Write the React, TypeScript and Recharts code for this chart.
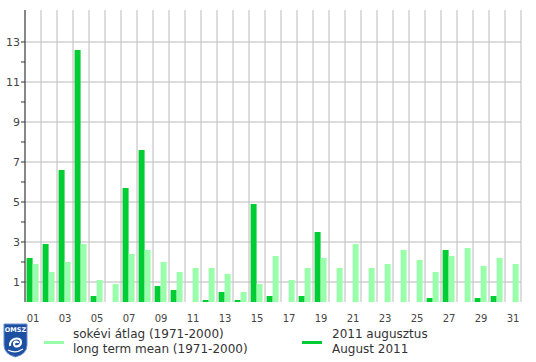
import React from 'react';
import { BarChart, Bar, XAxis, YAxis, CartesianGrid } from 'recharts';

// daily precipitation, August 2011 vs long term mean (1971-2000)
const days = [
  '01', '02', '03', '04', '05', '06', '07', '08', '09', '10',
  '11', '12', '13', '14', '15', '16', '17', '18', '19', '20',
  '21', '22', '23', '24', '25', '26', '27', '28', '29', '30', '31',
];
const aug2011 = [
  2.2, 2.9, 6.6, 12.6, 0.3, 0, 5.7, 7.6, 0.8, 0.6,
  0, 0.1, 0.5, 0.1, 4.9, 0.3, 0, 0.3, 3.5, 0,
  0, 0, 0, 0, 0, 0.2, 2.6, 0, 0.2, 0.3, 0,
];
const longTermMean = [
  1.9, 1.5, 2.0, 2.9, 1.1, 0.9, 2.4, 2.6, 2.0, 1.5,
  1.7, 1.7, 1.4, 0.5, 0.9, 2.3, 1.1, 1.7, 2.2, 1.7,
  2.9, 1.7, 1.9, 2.6, 2.1, 1.5, 2.3, 2.7, 1.8, 2.2, 1.9,
];
const yTicks = [1, 2, 3, 4, 5, 6, 7, 8, 9, 10, 11, 12, 13];
const yGridValues = [1, 3, 5, 7, 9, 11, 13];
const dayBoundaries = [
  0, 1, 2, 3, 4, 5, 6, 7, 8, 9, 10, 11, 12, 13, 14, 15,
  16, 17, 18, 19, 20, 21, 22, 23, 24, 25, 26, 27, 28, 29, 30, 31,
];

const DARK = '#00cc33';
const LIGHT = '#99ffaa';
const AXIS = '#333333';

// pos = middle of the day on the 0..31 boundary axis
const data = days.map((day, i) => ({ day, pos: i + 0.5, aug: aug2011[i], mean: longTermMean[i] }));

// only odd values get a label, even ones keep just the small tick
const YTick = (props: any) => {
  const { x, y, payload } = props;
  if (payload.value % 2 === 0) return <g />;
  return (
    <text x={x} y={y} dy={4} textAnchor="end" fill="#444" fontSize={11}>
      {payload.value}
    </text>
  );
};

const NoLabel = () => <g />;

const Logo = () => (
  <svg width={25} height={35} style={{ position: 'absolute', left: 3, top: 323 }}>
    <path d="M1 1 H24 V22 Q24 31 12.5 34 Q1 31 1 22 Z" fill="#1d4fa3" stroke="#6f8fcf" strokeWidth={1} />
    <text x={12.5} y={9} textAnchor="middle" fill="#fff" fontSize={6.5} fontWeight="bold">OMSZ</text>
    <path d="M7 23 C6 15 18 13 18 19 C18 24 11 25 11 21 C11 18 15 18 15 20" stroke="#fff" strokeWidth={2.2} fill="none" />
    <path d="M5 27 Q12.5 31 20 26" stroke="#fff" strokeWidth={1.2} fill="none" />
  </svg>
);

export default function App() {
  return (
    <div style={{ position: 'relative', width: 536, height: 362, fontFamily: '"DejaVu Sans", Verdana, sans-serif', background: '#fff' }}>
      <style>{'body{margin:0}'}</style>
      <BarChart
        width={536}
        height={362}
        data={data}
        margin={{ top: 10, right: 15, bottom: 40, left: 0 }}
        barCategoryGap="10%"
        barGap={0}
      >
        <CartesianGrid
          xAxisId="grid"
          horizontalValues={yGridValues}
          verticalValues={dayBoundaries}
          stroke="#bbbbbb"
        />
        <XAxis
          xAxisId="grid"
          dataKey="pos"
          type="number"
          domain={[0, 31]}
          ticks={dayBoundaries}
          interval={0}
          tick={<NoLabel />}
          tickSize={4}
          height={0}
          axisLine={{ stroke: AXIS }}
          tickLine={{ stroke: AXIS }}
        />
        <XAxis
          xAxisId="cat"
          dataKey="day"
          interval={1}
          tickLine={false}
          axisLine={false}
          tickSize={6}
          tickMargin={7}
          height={20}
          tick={{ fill: '#444', fontSize: 10 }}
        />
        <YAxis
          width={25}
          domain={[0, 14.6]}
          ticks={yTicks}
          interval={0}
          tick={<YTick />}
          tickSize={4}
          tickMargin={1}
          axisLine={{ stroke: AXIS }}
          tickLine={{ stroke: AXIS }}
        />
        <Bar xAxisId="cat" dataKey="aug" fill={DARK} isAnimationActive={false} />
        <Bar xAxisId="cat" dataKey="mean" fill={LIGHT} isAnimationActive={false} />
      </BarChart>

      <Logo />
      <div style={{ position: 'absolute', left: 44, top: 341, width: 20, height: 3, background: LIGHT }} />
      <div style={{ position: 'absolute', left: 73, top: 327, fontSize: 12, lineHeight: '15px', color: '#333' }}>
        sokévi átlag (1971-2000)<br />long term mean (1971-2000)
      </div>
      <div style={{ position: 'absolute', left: 302, top: 341, width: 20, height: 3, background: DARK }} />
      <div style={{ position: 'absolute', left: 332, top: 327, fontSize: 12, lineHeight: '15px', color: '#333' }}>
        2011 augusztus<br />August 2011
      </div>
    </div>
  );
}
